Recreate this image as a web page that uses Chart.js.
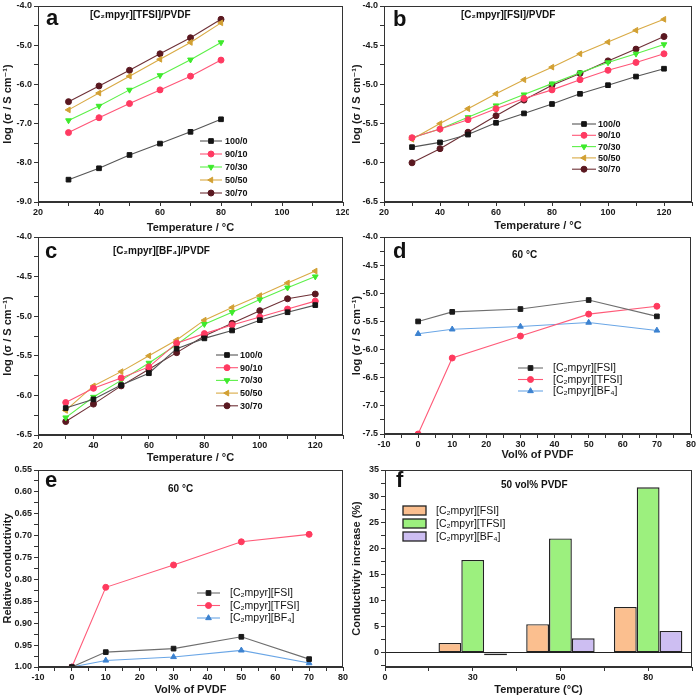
<!DOCTYPE html>
<html><head><meta charset="utf-8">
<script src="https://cdn.jsdelivr.net/npm/chart.js"></script>
<style>
html,body{margin:0;padding:0;background:#fff;}
#wrap{position:relative;width:699px;height:700px;overflow:hidden;background:#fff;}
canvas{position:absolute;}
</style></head><body>
<div id="wrap">
<canvas id="ca" width="349" height="235" style="left:0;top:0"></canvas>
<canvas id="cb" width="350" height="235" style="left:349px;top:0"></canvas>
<canvas id="cc" width="349" height="240" style="left:0;top:225px"></canvas>
<canvas id="cd" width="350" height="240" style="left:349px;top:225px"></canvas>
<canvas id="ce" width="349" height="240" style="left:0;top:460px"></canvas>
<canvas id="cf" width="350" height="240" style="left:349px;top:460px"></canvas>
</div>
<script>
// ---------------- DATA ----------------
const tempsA = [30, 40, 50, 60, 70, 80];
const tempsBC = [30, 40, 50, 60, 70, 80, 90, 100, 110, 120];
const ratioLabels = ['100/0', '90/10', '70/30', '50/50', '30/70'];

const a100_0 = [-8.43, -8.14, -7.80, -7.51, -7.21, -6.89];
const a90_10 = [-7.23, -6.85, -6.49, -6.14, -5.79, -5.38];
const a70_30 = [-6.92, -6.55, -6.14, -5.77, -5.37, -4.93];
const a50_50 = [-6.65, -6.22, -5.79, -5.36, -4.93, -4.43];
const a30_70 = [-6.44, -6.04, -5.64, -5.22, -4.81, -4.34];

const b100_0 = [-5.80, -5.74, -5.64, -5.49, -5.37, -5.25, -5.12, -5.01, -4.90, -4.80];
const b90_10 = [-5.68, -5.57, -5.45, -5.31, -5.18, -5.07, -4.94, -4.82, -4.72, -4.61];
const b70_30 = [-5.68, -5.57, -5.42, -5.27, -5.13, -4.99, -4.85, -4.72, -4.61, -4.49];
const b50_50 = [-5.70, -5.50, -5.31, -5.12, -4.94, -4.78, -4.61, -4.46, -4.31, -4.17];
const b30_70 = [-6.00, -5.82, -5.61, -5.40, -5.20, -5.01, -4.86, -4.70, -4.55, -4.39];

const c100_0 = [-6.16, -6.05, -5.87, -5.72, -5.41, -5.28, -5.18, -5.05, -4.95, -4.86];
const c90_10 = [-6.09, -5.91, -5.78, -5.64, -5.34, -5.22, -5.11, -5.01, -4.91, -4.81];
const c70_30 = [-6.28, -6.02, -5.81, -5.59, -5.36, -5.10, -4.95, -4.79, -4.64, -4.50];
const c50_50 = [-6.19, -5.88, -5.70, -5.50, -5.30, -5.05, -4.89, -4.74, -4.58, -4.43];
const c30_70 = [-6.33, -6.11, -5.88, -5.67, -5.46, -5.25, -5.09, -4.93, -4.78, -4.72];

const vols = [0, 10, 30, 50, 70];
const ilLabels = ['[C\u2082mpyr][FSI]', '[C\u2082mpyr][TFSI]', '[C\u2082mpyr][BF\u2084]'];
const dFSI = [-5.50, -5.33, -5.28, -5.12, -5.41];
const dTFSI = [-7.50, -6.15, -5.76, -5.37, -5.23];
const dBF4 = [-5.72, -5.64, -5.59, -5.52, -5.66];

const eFSI = [1.00, 0.966, 0.958, 0.931, 0.982];
const eTFSI = [1.00, 0.818, 0.767, 0.714, 0.697];
const eBF4 = [1.00, 0.985, 0.977, 0.962, 0.991];

const fTickLabels = ['0', '30', '50', '80'];
const fPositions = [1, 2, 3];
const fFSI = [1.9, 5.5, 8.8];
const fTFSI = [17.8, 21.9, 31.7];
const fBF4 = [-0.45, 2.8, 4.2];

// ---------------- STYLE ----------------
const FONT = '"Liberation Sans", Arial, "DejaVu Sans", sans-serif';
const ratioStyles = [
  {color: '#151515', line: '#555555', style: 'rect', rot: 0, r: 3.3},
  {color: '#FF3A62', line: '#FF5577', style: 'circle', rot: 0, r: 3},
  {color: '#3EEA2C', line: '#5CF048', style: 'triangle', rot: 180, r: 3.3},
  {color: '#D2A033', line: '#D9AA44', style: 'triangle', rot: 270, r: 3.3},
  {color: '#5A1820', line: '#6E3036', style: 'circle', rot: 0, r: 3}
];
const ilStyles = [
  {color: '#1A1A1A', line: '#6E6E6E', style: 'rect', rot: 0, r: 3.3},
  {color: '#FF3A5E', line: '#FF5A78', style: 'circle', rot: 0, r: 3},
  {color: '#3C82D0', line: '#6AA6E6', style: 'triangle', rot: 0, r: 3.3}
];
const barColors = ['#FBBF8F', '#9CF07E', '#CDBEF2'];

// ---------------- HELPERS ----------------
function makeTicks(min, max, step) {
  const arr = [];
  const n = Math.round((max - min) / step);
  for (let i = 0; i <= n; i++) arr.push({value: +(min + i * step).toFixed(6)});
  return arr;
}
function isMult(v, m) { return Math.abs(v / m - Math.round(v / m)) < 1e-6; }

function scale(axis, cfg) {
  return {
    type: 'linear', min: cfg.min, max: cfg.max, reverse: !!cfg.reverse,
    offset: false,
    afterBuildTicks: s => { s.ticks = makeTicks(cfg.tmin !== undefined ? cfg.tmin : cfg.min, cfg.max, cfg.step); },
    ticks: {
      autoSkip: false, maxRotation: 0, minRotation: 0,
      padding: axis === 'x' ? 1 : 2, color: '#1a1a1a',
      font: {family: FONT, size: 9, weight: 'bold'},
      callback: v => cfg.label(v)
    },
    grid: {
      offset: false,
      drawOnChartArea: !!cfg.gridColor, drawTicks: true, tickLength: 4,
      color: cfg.gridColor || '#333', tickColor: '#333', tickWidth: 1
    },
    border: {display: true, color: '#333', width: 1},
    title: {
      display: true, text: cfg.title, color: '#1a1a1a',
      font: {family: FONT, size: 11, weight: 'bold'},
      padding: axis === 'x' ? {top: 0, bottom: cfg.tpad || 0} : {top: 1, bottom: 0}
    },
    afterFit: s => {
      if (axis === 'x') s.height = cfg.size; else s.width = cfg.size;
      s.paddingLeft = 0; s.paddingRight = 0; s.paddingTop = 0; s.paddingBottom = 0;
    }
  };
}

function lineDs(label, xs, ys, st) {
  return {
    label, data: xs.map((x, i) => ({x, y: ys[i]})),
    borderColor: st.line, backgroundColor: st.color,
    pointBackgroundColor: st.color, pointBorderColor: st.color,
    pointStyle: st.style, pointRotation: st.rot, pointRadius: st.r,
    pointBorderWidth: 1, borderWidth: 1.1, tension: 0, fill: false
  };
}

const framePlugin = {
  id: 'frame',
  afterDraw(chart) {
    const {ctx, chartArea: a} = chart;
    ctx.save();
    ctx.strokeStyle = '#333'; ctx.lineWidth = 1;
    const l = Math.round(a.left) + 0.5, t = Math.round(a.top) + 0.5;
    const r = Math.round(a.right) - 0.5, b = Math.round(a.bottom) - 0.5;
    ctx.strokeRect(l, t, r - l, b - t);
    ctx.restore();
  }
};
const textPlugin = {
  id: 'ptext',
  afterDraw(chart, args, opts) {
    const items = (opts && opts.items) || [];
    const ctx = chart.ctx;
    ctx.save();
    items.forEach(it => {
      ctx.font = it.font; ctx.fillStyle = it.color || '#111';
      ctx.textAlign = it.align || 'left'; ctx.textBaseline = 'alphabetic';
      ctx.fillText(it.text, it.x, it.y);
    });
    ctx.restore();
  }
};
const legPlugin = {
  id: 'leg',
  afterDraw(chart, args, o) {
    if (!o || o.x === undefined) return;
    const ctx = chart.ctx;
    ctx.save();
    chart.data.datasets.forEach((ds, i) => {
      const y = o.y + i * o.dy;
      if (o.box) {
        ctx.fillStyle = ds.backgroundColor; ctx.strokeStyle = '#222'; ctx.lineWidth = 1.3;
        ctx.fillRect(o.x, y - o.bh / 2, o.bw, o.bh);
        ctx.strokeRect(o.x, y - o.bh / 2, o.bw, o.bh);
      } else {
        ctx.strokeStyle = ds.borderColor; ctx.lineWidth = ds.borderWidth;
        ctx.beginPath(); ctx.moveTo(o.x, y); ctx.lineTo(o.x + o.len, y); ctx.stroke();
        ctx.fillStyle = ds.pointBackgroundColor; ctx.strokeStyle = ds.pointBorderColor; ctx.lineWidth = 1;
        Chart.helpers.drawPoint(ctx, {pointStyle: ds.pointStyle, rotation: ds.pointRotation, radius: ds.pointRadius, borderWidth: 1}, o.x + o.len / 2, y);
      }
      ctx.fillStyle = '#111'; ctx.font = o.font; ctx.textAlign = 'left'; ctx.textBaseline = 'middle';
      ctx.fillText(ds.label, o.tx, y + 0.5);
    });
    ctx.restore();
  }
};
Chart.register(framePlugin, textPlugin, legPlugin);

function makeChart(id, type, datasets, xs, ys, padding, texts, leg, extra) {
  return new Chart(document.getElementById(id), {
    type,
    data: {datasets},
    options: Object.assign({
      responsive: false, animation: false, devicePixelRatio: 1,
      layout: {padding},
      scales: {x: xs, y: ys},
      plugins: {legend: {display: false}, tooltip: {enabled: false}, ptext: {items: texts}, leg}
    }, extra || {})
  });
}

const LOGT = 'log (\u03C3 / S cm\u207B\u00B9)';
const letterFont = 'bold 22px ' + FONT;
const titleFont = 'bold 10px ' + FONT;
const legBold = 'bold 9px ' + FONT;
const legReg = '10.5px ' + FONT;

// ---------------- PANEL A ----------------
const aSeries = [a100_0, a90_10, a70_30, a50_50, a30_70];
makeChart('ca', 'line',
  aSeries.map((s, i) => lineDs(ratioLabels[i], tempsA, s, ratioStyles[i])),
  scale('x', {min: 20, max: 120, step: 10, label: v => isMult(v, 20) ? String(v) : '', title: 'Temperature / \u00B0C', size: 33, tpad: 0}),
  scale('y', {min: -9, max: -4, step: 0.5, label: v => isMult(v, 1) ? v.toFixed(1) : '', title: LOGT, size: 38}),
  {left: 0, top: 6, right: 6, bottom: 0},
  [{text: 'a', x: 46, y: 25, font: letterFont}, {text: '[C\u2082mpyr][TFSI]/PVDF', x: 90, y: 18, font: titleFont}],
  {x: 200, y: 141, dy: 13, len: 22, tx: 225, font: legBold}
);

// ---------------- PANEL B ----------------
const bSeries = [b100_0, b90_10, b70_30, b50_50, b30_70];
makeChart('cb', 'line',
  bSeries.map((s, i) => lineDs(ratioLabels[i], tempsBC, s, ratioStyles[i])),
  scale('x', {min: 20, max: 130, step: 10, label: v => isMult(v, 20) ? String(v) : '', title: 'Temperature / \u00B0C', size: 33, tpad: 2}),
  scale('y', {min: -6.5, max: -4, step: 0.25, label: v => isMult(v, 0.5) ? v.toFixed(1) : '', title: LOGT, size: 35}),
  {left: 0, top: 6, right: 7, bottom: 0},
  [{text: 'b', x: 44, y: 26, font: letterFont}, {text: '[C\u2082mpyr][FSI]/PVDF', x: 112, y: 18, font: titleFont}],
  {x: 223, y: 124, dy: 11.3, len: 24, tx: 249, font: legBold}
);

// ---------------- PANEL C ----------------
const cSeries = [c100_0, c90_10, c70_30, c50_50, c30_70];
makeChart('cc', 'line',
  cSeries.map((s, i) => lineDs(ratioLabels[i], tempsBC, s, ratioStyles[i])),
  scale('x', {min: 20, max: 130, step: 10, label: v => isMult(v, 20) ? String(v) : '', title: 'Temperature / \u00B0C', size: 30, tpad: 0}),
  scale('y', {min: -6.5, max: -4, step: 0.25, label: v => isMult(v, 0.5) ? v.toFixed(1) : '', title: LOGT, size: 38}),
  {left: 0, top: 12, right: 6, bottom: 0},
  [{text: 'c', x: 45, y: 33, font: letterFont}, {text: '[C\u2082mpyr][BF\u2084]/PVDF', x: 113, y: 29, font: titleFont}],
  {x: 216, y: 130, dy: 12.7, len: 22, tx: 240, font: legBold}
);

// ---------------- PANEL D ----------------
const dSeries = [dFSI, dTFSI, dBF4];
makeChart('cd', 'line',
  dSeries.map((s, i) => lineDs(ilLabels[i], vols, s, ilStyles[i])),
  scale('x', {min: -10, max: 80, step: 5, label: v => isMult(v, 10) ? String(v) : '', title: 'Vol% of PVDF', size: 31, tpad: 3}),
  scale('y', {min: -7.5, max: -4, step: 0.25, label: v => isMult(v, 0.5) ? v.toFixed(1) : '', title: LOGT, size: 35}),
  {left: 0, top: 12, right: 8, bottom: 0},
  [{text: 'd', x: 44, y: 33, font: letterFont}, {text: '60 \u00B0C', x: 163, y: 33, font: titleFont}],
  {x: 169, y: 143, dy: 11.5, len: 25, tx: 204, font: legReg}
);

// ---------------- PANEL E ----------------
const eSeries = [eFSI, eTFSI, eBF4];
makeChart('ce', 'line',
  eSeries.map((s, i) => lineDs(ilLabels[i], vols, s, ilStyles[i])),
  scale('x', {min: -10, max: 80, step: 5, label: v => isMult(v, 10) ? String(v) : '', title: 'Vol% of PVDF', size: 33, tpad: 3}),
  scale('y', {min: 0.55, max: 1.0, step: 0.025, reverse: true, label: v => isMult(v, 0.05) ? v.toFixed(2) : '', title: 'Relative conductivity', size: 38}),
  {left: 0, top: 10, right: 6, bottom: 0},
  [{text: 'e', x: 45, y: 27, font: letterFont}, {text: '60 \u00B0C', x: 168, y: 32, font: titleFont}],
  {x: 197, y: 133, dy: 12.5, len: 23, tx: 230, font: legReg}
);

// ---------------- PANEL F ----------------
// note: ticks every 0.5 units (44 px) set the bar ruler, so 1.56 of that = 0.78 of one category
const fSeries = [fFSI, fTFSI, fBF4];
makeChart('cf', 'bar',
  fSeries.map((s, i) => ({
    label: ilLabels[i], data: fPositions.map((p, j) => ({x: p, y: s[j]})),
    backgroundColor: barColors[i], borderColor: '#222', borderWidth: 1.4, borderSkipped: false,
    categoryPercentage: 1.56, barPercentage: 1.0
  })),
  scale('x', {min: 0, max: 3.5, step: 0.5, label: v => isMult(v, 1) ? fTickLabels[Math.round(v)] : '', title: 'Temperature (\u00B0C)', size: 33, tpad: 3}),
  scale('y', {min: -2.7, max: 35, tmin: -2.5, step: 2.5, label: v => isMult(v, 5) ? String(Math.round(v)) : '', title: 'Conductivity increase (%)', size: 36,
    gridColor: c => (c.tick && Math.abs(c.tick.value) < 1e-6) ? '#222' : 'rgba(0,0,0,0)'}),
  {left: 0, top: 10, right: 7, bottom: 0},
  [{text: 'f', x: 47, y: 27, font: letterFont}, {text: '50 vol% PVDF', x: 152, y: 28, font: titleFont}],
  {x: 54, y: 50.5, dy: 13, box: true, bw: 23, bh: 9, tx: 87, font: legReg}
);
</script>
</body></html>
